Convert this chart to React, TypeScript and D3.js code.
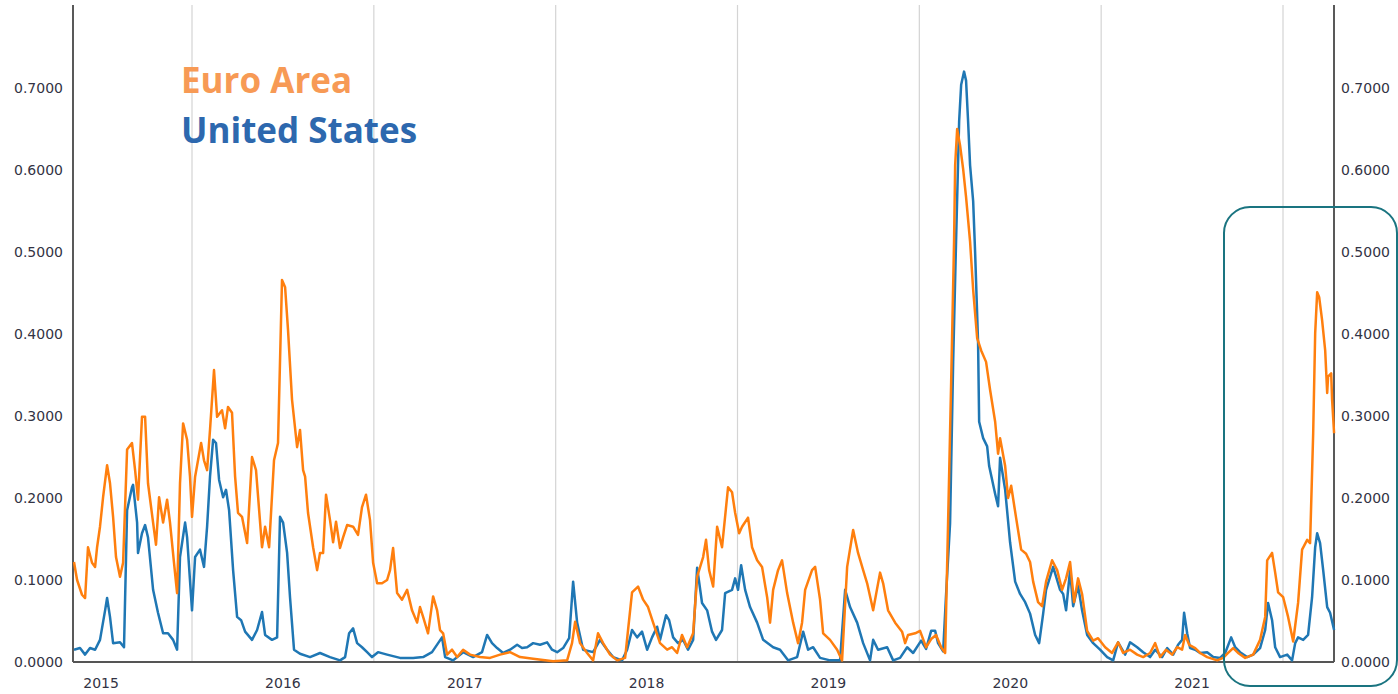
import React from "react";
import * as d3 from "d3";

// [decimal year, value]
const euroArea: [number, number][] = [
  [2015.351, 0.122], [2015.368, 0.1], [2015.395, 0.082], [2015.412, 0.078], [2015.428, 0.14],
  [2015.45, 0.121], [2015.467, 0.116], [2015.478, 0.14], [2015.494, 0.165], [2015.511, 0.201],
  [2015.533, 0.24], [2015.549, 0.218], [2015.566, 0.177], [2015.582, 0.128], [2015.604, 0.104],
  [2015.621, 0.121], [2015.643, 0.259], [2015.67, 0.267], [2015.687, 0.234], [2015.703, 0.198],
  [2015.725, 0.299], [2015.742, 0.299], [2015.758, 0.218], [2015.786, 0.17], [2015.802, 0.143],
  [2015.819, 0.201], [2015.841, 0.17], [2015.863, 0.198], [2015.879, 0.17], [2015.901, 0.121],
  [2015.918, 0.084], [2015.934, 0.218], [2015.951, 0.291], [2015.973, 0.271], [2015.989, 0.226],
  [2016.0, 0.177], [2016.017, 0.226], [2016.05, 0.267], [2016.066, 0.246], [2016.083, 0.234],
  [2016.099, 0.283], [2016.121, 0.356], [2016.138, 0.299], [2016.165, 0.307], [2016.182, 0.285],
  [2016.198, 0.311], [2016.22, 0.304], [2016.237, 0.226], [2016.253, 0.182], [2016.275, 0.177],
  [2016.303, 0.145], [2016.33, 0.25], [2016.352, 0.234], [2016.385, 0.14], [2016.402, 0.165],
  [2016.424, 0.14], [2016.451, 0.246], [2016.473, 0.267], [2016.495, 0.466], [2016.512, 0.457],
  [2016.528, 0.405], [2016.55, 0.32], [2016.578, 0.262], [2016.594, 0.283], [2016.611, 0.234],
  [2016.622, 0.226], [2016.638, 0.182], [2016.666, 0.14], [2016.688, 0.112], [2016.704, 0.133],
  [2016.721, 0.133], [2016.737, 0.204], [2016.759, 0.173], [2016.776, 0.146], [2016.792, 0.171],
  [2016.814, 0.139], [2016.831, 0.152], [2016.853, 0.167], [2016.886, 0.165], [2016.913, 0.155],
  [2016.935, 0.189], [2016.957, 0.204], [2016.979, 0.173], [2016.996, 0.121], [2017.018, 0.096],
  [2017.045, 0.096], [2017.073, 0.1], [2017.089, 0.112], [2017.106, 0.139], [2017.128, 0.084],
  [2017.155, 0.076], [2017.183, 0.088], [2017.21, 0.063], [2017.238, 0.048], [2017.254, 0.067],
  [2017.271, 0.055], [2017.298, 0.035], [2017.326, 0.08], [2017.348, 0.063], [2017.364, 0.039],
  [2017.381, 0.035], [2017.403, 0.009], [2017.43, 0.015], [2017.458, 0.006], [2017.491, 0.015],
  [2017.529, 0.009], [2017.584, 0.006], [2017.639, 0.005], [2017.694, 0.009], [2017.749, 0.012],
  [2017.804, 0.006], [2017.876, 0.004], [2017.986, 0.001], [2018.063, 0.002], [2018.09, 0.023],
  [2018.107, 0.049], [2018.134, 0.023], [2018.173, 0.011], [2018.206, 0.002], [2018.233, 0.035],
  [2018.261, 0.023], [2018.299, 0.009], [2018.338, 0.002], [2018.382, 0.005], [2018.398, 0.039],
  [2018.42, 0.085], [2018.453, 0.092], [2018.481, 0.076], [2018.508, 0.067], [2018.536, 0.048],
  [2018.574, 0.023], [2018.613, 0.015], [2018.64, 0.018], [2018.668, 0.011], [2018.695, 0.033],
  [2018.723, 0.018], [2018.756, 0.035], [2018.778, 0.104], [2018.811, 0.128], [2018.827, 0.149],
  [2018.844, 0.112], [2018.866, 0.092], [2018.888, 0.165], [2018.915, 0.14], [2018.948, 0.213],
  [2018.97, 0.207], [2018.987, 0.182], [2019.009, 0.157], [2019.025, 0.165], [2019.058, 0.176],
  [2019.08, 0.14], [2019.108, 0.124], [2019.135, 0.116], [2019.163, 0.079], [2019.179, 0.048],
  [2019.196, 0.088], [2019.223, 0.112], [2019.245, 0.124], [2019.273, 0.084], [2019.306, 0.048],
  [2019.333, 0.023], [2019.355, 0.048], [2019.372, 0.088], [2019.41, 0.112], [2019.427, 0.116],
  [2019.454, 0.076], [2019.471, 0.035], [2019.509, 0.027], [2019.548, 0.015], [2019.575, 0.002],
  [2019.603, 0.116], [2019.636, 0.161], [2019.663, 0.133], [2019.691, 0.112], [2019.713, 0.096],
  [2019.746, 0.063], [2019.784, 0.109], [2019.801, 0.096], [2019.828, 0.063], [2019.867, 0.048],
  [2019.905, 0.037], [2019.922, 0.023], [2019.938, 0.033], [2019.977, 0.035], [2020.004, 0.038],
  [2020.037, 0.018], [2020.065, 0.028], [2020.092, 0.033], [2020.12, 0.018], [2020.142, 0.011],
  [2020.158, 0.169], [2020.175, 0.341], [2020.191, 0.513], [2020.197, 0.606], [2020.208, 0.65],
  [2020.224, 0.63], [2020.241, 0.601], [2020.257, 0.567], [2020.279, 0.513], [2020.296, 0.454],
  [2020.318, 0.395], [2020.34, 0.38], [2020.367, 0.366], [2020.389, 0.332], [2020.417, 0.293],
  [2020.433, 0.254], [2020.444, 0.273], [2020.472, 0.239], [2020.488, 0.2], [2020.505, 0.215],
  [2020.532, 0.176], [2020.56, 0.137], [2020.587, 0.132], [2020.609, 0.122], [2020.626, 0.098],
  [2020.653, 0.073], [2020.675, 0.068], [2020.697, 0.098], [2020.73, 0.124], [2020.758, 0.112],
  [2020.785, 0.088], [2020.807, 0.102], [2020.829, 0.122], [2020.851, 0.073], [2020.873, 0.102],
  [2020.895, 0.083], [2020.923, 0.038], [2020.956, 0.026], [2020.983, 0.029], [2021.022, 0.018],
  [2021.06, 0.011], [2021.093, 0.024], [2021.121, 0.011], [2021.159, 0.015], [2021.198, 0.009],
  [2021.231, 0.006], [2021.269, 0.011], [2021.297, 0.023], [2021.324, 0.006], [2021.357, 0.015],
  [2021.39, 0.009], [2021.418, 0.018], [2021.445, 0.015], [2021.462, 0.033], [2021.484, 0.021],
  [2021.517, 0.017], [2021.544, 0.011], [2021.583, 0.006], [2021.638, 0.002], [2021.671, 0.005],
  [2021.698, 0.011], [2021.726, 0.017], [2021.753, 0.011], [2021.792, 0.005], [2021.836, 0.009],
  [2021.874, 0.027], [2021.902, 0.055], [2021.913, 0.124], [2021.94, 0.133], [2021.957, 0.109],
  [2021.973, 0.085], [2022.001, 0.079], [2022.028, 0.055], [2022.056, 0.025], [2022.083, 0.072],
  [2022.105, 0.137], [2022.133, 0.149], [2022.149, 0.145], [2022.166, 0.279], [2022.177, 0.401],
  [2022.188, 0.451], [2022.199, 0.445], [2022.215, 0.417], [2022.232, 0.38], [2022.243, 0.328],
  [2022.248, 0.348], [2022.265, 0.352], [2022.27, 0.32], [2022.281, 0.279],
];

const unitedStates: [number, number][] = [
  [2015.351, 0.015], [2015.384, 0.017], [2015.412, 0.009], [2015.439, 0.017], [2015.467, 0.015],
  [2015.494, 0.027], [2015.522, 0.063], [2015.533, 0.078], [2015.549, 0.055], [2015.566, 0.023],
  [2015.604, 0.024], [2015.626, 0.018], [2015.643, 0.185], [2015.67, 0.213], [2015.676, 0.216],
  [2015.698, 0.17], [2015.703, 0.133], [2015.725, 0.157], [2015.742, 0.167], [2015.758, 0.152],
  [2015.786, 0.088], [2015.813, 0.06], [2015.841, 0.035], [2015.868, 0.035], [2015.896, 0.027],
  [2015.918, 0.015], [2015.934, 0.128], [2015.962, 0.17], [2015.973, 0.152], [2016.0, 0.063],
  [2016.017, 0.128], [2016.044, 0.137], [2016.066, 0.116], [2016.083, 0.165], [2016.099, 0.226],
  [2016.116, 0.271], [2016.132, 0.267], [2016.149, 0.222], [2016.171, 0.201], [2016.187, 0.21],
  [2016.204, 0.185], [2016.226, 0.112], [2016.248, 0.055], [2016.27, 0.051], [2016.292, 0.037],
  [2016.33, 0.027], [2016.358, 0.039], [2016.385, 0.061], [2016.402, 0.033], [2016.44, 0.027],
  [2016.468, 0.03], [2016.484, 0.177], [2016.501, 0.17], [2016.523, 0.133], [2016.539, 0.079],
  [2016.561, 0.015], [2016.594, 0.01], [2016.649, 0.006], [2016.704, 0.011], [2016.759, 0.006],
  [2016.814, 0.002], [2016.842, 0.006], [2016.864, 0.035], [2016.886, 0.041], [2016.908, 0.023],
  [2016.935, 0.018], [2016.963, 0.012], [2016.99, 0.006], [2017.023, 0.012], [2017.073, 0.009],
  [2017.144, 0.005], [2017.216, 0.005], [2017.271, 0.006], [2017.32, 0.012], [2017.375, 0.03],
  [2017.392, 0.006], [2017.436, 0.002], [2017.491, 0.012], [2017.546, 0.006], [2017.595, 0.012],
  [2017.623, 0.033], [2017.65, 0.023], [2017.678, 0.017], [2017.711, 0.011], [2017.749, 0.015],
  [2017.788, 0.021], [2017.815, 0.017], [2017.843, 0.018], [2017.876, 0.023], [2017.914, 0.021],
  [2017.953, 0.024], [2017.98, 0.015], [2018.008, 0.012], [2018.041, 0.017], [2018.074, 0.029],
  [2018.096, 0.098], [2018.118, 0.048], [2018.151, 0.015], [2018.206, 0.012], [2018.244, 0.027],
  [2018.283, 0.015], [2018.316, 0.006], [2018.365, 0.002], [2018.393, 0.015], [2018.42, 0.039],
  [2018.448, 0.03], [2018.475, 0.037], [2018.503, 0.015], [2018.53, 0.03], [2018.558, 0.043],
  [2018.574, 0.027], [2018.607, 0.057], [2018.624, 0.051], [2018.646, 0.03], [2018.673, 0.023],
  [2018.701, 0.027], [2018.728, 0.015], [2018.756, 0.027], [2018.778, 0.115], [2018.805, 0.072],
  [2018.833, 0.063], [2018.86, 0.037], [2018.882, 0.027], [2018.915, 0.039], [2018.932, 0.084],
  [2018.97, 0.088], [2018.987, 0.102], [2019.003, 0.088], [2019.02, 0.118], [2019.042, 0.088],
  [2019.069, 0.067], [2019.108, 0.048], [2019.141, 0.027], [2019.196, 0.018], [2019.234, 0.015],
  [2019.278, 0.002], [2019.328, 0.006], [2019.361, 0.037], [2019.388, 0.015], [2019.416, 0.018],
  [2019.454, 0.005], [2019.509, 0.002], [2019.564, 0.002], [2019.592, 0.088], [2019.619, 0.067],
  [2019.658, 0.048], [2019.691, 0.023], [2019.729, 0.002], [2019.746, 0.027], [2019.773, 0.015],
  [2019.823, 0.018], [2019.856, 0.002], [2019.894, 0.005], [2019.933, 0.018], [2019.966, 0.011],
  [2020.01, 0.026], [2020.037, 0.016], [2020.065, 0.038], [2020.087, 0.038], [2020.103, 0.023],
  [2020.131, 0.013], [2020.147, 0.082], [2020.169, 0.169], [2020.186, 0.366], [2020.202, 0.513],
  [2020.219, 0.66], [2020.23, 0.704], [2020.246, 0.72], [2020.257, 0.709], [2020.268, 0.66],
  [2020.279, 0.606], [2020.296, 0.562], [2020.307, 0.498], [2020.323, 0.39], [2020.329, 0.293],
  [2020.351, 0.273], [2020.373, 0.263], [2020.384, 0.239], [2020.417, 0.205], [2020.433, 0.19],
  [2020.444, 0.249], [2020.472, 0.21], [2020.499, 0.146], [2020.527, 0.098], [2020.554, 0.083],
  [2020.582, 0.073], [2020.609, 0.059], [2020.637, 0.033], [2020.659, 0.023], [2020.681, 0.059],
  [2020.697, 0.088], [2020.736, 0.116], [2020.774, 0.088], [2020.791, 0.083], [2020.807, 0.063],
  [2020.829, 0.112], [2020.846, 0.068], [2020.873, 0.093], [2020.895, 0.063], [2020.923, 0.033],
  [2020.956, 0.023], [2020.994, 0.015], [2021.033, 0.006], [2021.066, 0.002], [2021.093, 0.024],
  [2021.132, 0.009], [2021.159, 0.024], [2021.198, 0.018], [2021.231, 0.012], [2021.269, 0.006],
  [2021.297, 0.015], [2021.335, 0.006], [2021.363, 0.017], [2021.396, 0.009], [2021.423, 0.021],
  [2021.445, 0.027], [2021.456, 0.06], [2021.473, 0.035], [2021.489, 0.017], [2021.517, 0.015],
  [2021.544, 0.011], [2021.583, 0.012], [2021.616, 0.006], [2021.654, 0.005], [2021.682, 0.011],
  [2021.715, 0.03], [2021.737, 0.018], [2021.764, 0.012], [2021.803, 0.006], [2021.836, 0.009],
  [2021.874, 0.017], [2021.902, 0.039], [2021.918, 0.072], [2021.94, 0.051], [2021.957, 0.018],
  [2021.984, 0.006], [2022.023, 0.009], [2022.05, 0.002], [2022.067, 0.023], [2022.083, 0.03],
  [2022.111, 0.027], [2022.138, 0.033], [2022.16, 0.079], [2022.177, 0.14], [2022.188, 0.157],
  [2022.204, 0.145], [2022.221, 0.112], [2022.243, 0.067], [2022.259, 0.06], [2022.281, 0.039],
];

const xDomain: [number, number] = [2015.3455, 2022.2805];
const yTicks = [0, 0.1, 0.2, 0.3, 0.4, 0.5, 0.6, 0.7];
const gridYears = [2016, 2017, 2018, 2019, 2020, 2021, 2022];
const yearLabels = [2015, 2016, 2017, 2018, 2019, 2020, 2021];
const legendItems = ["Euro Area", "United States"];

const W = 1398;
const H = 694;
const left = 73;
const right = 1334;
const top = 6;
const bottom = 662;

export default function App() {
  const x = d3.scaleLinear().domain(xDomain).range([left, right]);
  const y = d3.scaleLinear().domain([0, 0.8]).range([bottom, top]);
  const line = d3
    .line<[number, number]>()
    .x((d) => x(d[0]))
    .y((d) => y(d[1]));

  const tickFont = { fontFamily: "'DejaVu Sans', Verdana, sans-serif", fontSize: 14, fill: "#333344" };

  return (
    <div style={{ position: "absolute", left: 0, top: 0 }}>
      <svg width={W} height={H} style={{ display: "block", background: "#fff" }}>
        {gridYears.map((yr) => (
          <line key={yr} x1={x(yr)} x2={x(yr)} y1={top - 1} y2={bottom} stroke="#d4d4d4" strokeWidth={1.2} />
        ))}
        <line x1={left} x2={left} y1={top - 1} y2={bottom} stroke="#222" strokeWidth={1.5} />
        <line x1={right} x2={right} y1={top - 1} y2={bottom} stroke="#222" strokeWidth={1.5} />
        <line x1={left} x2={right} y1={bottom} y2={bottom} stroke="#555" strokeWidth={2} />

        {yTicks.map((t) => (
          <g key={t}>
            <text x={63} y={y(t)} dy="0.36em" textAnchor="end" {...tickFont}>
              {t.toFixed(4)}
            </text>
            <text x={1341} y={y(t)} dy="0.36em" textAnchor="start" {...tickFont}>
              {t.toFixed(4)}
            </text>
          </g>
        ))}
        {yearLabels.map((yr) => (
          <text key={yr} x={x(yr + 0.5)} y={688} textAnchor="middle" {...tickFont}>
            {yr}
          </text>
        ))}

        <path d={line(unitedStates) || ""} fill="none" stroke="#1f77b4" strokeWidth={2.5} strokeLinejoin="round" />
        <path d={line(euroArea) || ""} fill="none" stroke="#ff7f0e" strokeWidth={2.5} strokeLinejoin="round" />

        <text x={181} y={93} fontFamily="'Open Sans', sans-serif" fontWeight={700} fontSize={35} fill="#F79A55">
          {legendItems[0]}
        </text>
        <text x={181} y={143} fontFamily="'Open Sans', sans-serif" fontWeight={700} fontSize={35} fill="#2D68AE">
          {legendItems[1]}
        </text>

        <rect x={1224} y={207} width={173} height={479} rx={26} ry={26} fill="none" stroke="#1A7480" strokeWidth={2} />
      </svg>
    </div>
  );
}
